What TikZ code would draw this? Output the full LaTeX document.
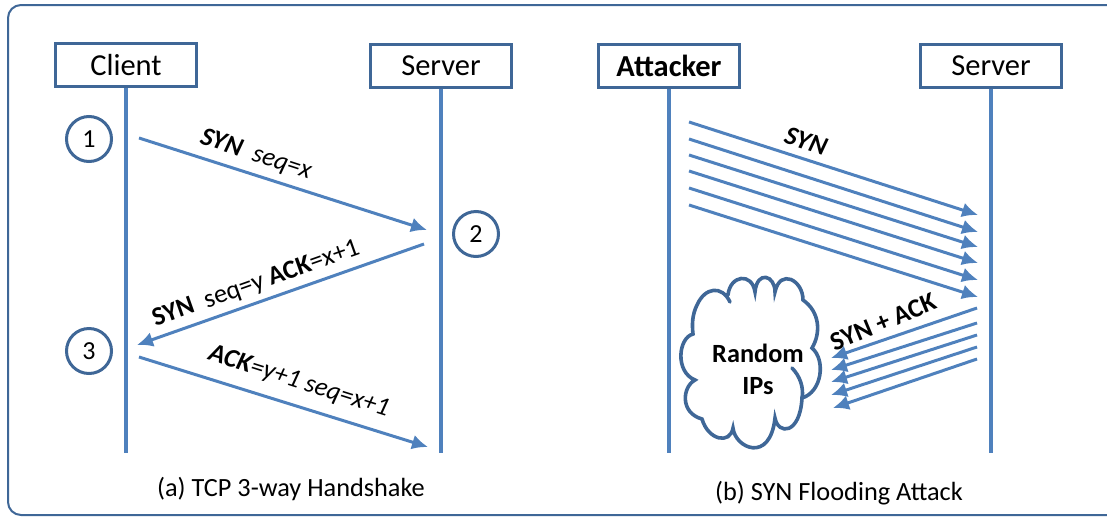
\documentclass[tikz,border=0pt]{standalone}
\usepackage{fontspec}
\setmainfont{Carlito}
\usepackage{tikz}
\usetikzlibrary{arrows.meta}
\definecolor{linkblue}{HTML}{4F81BD}
\definecolor{edgeblue}{HTML}{3F6797}
\tikzset{
  party/.style={draw=edgeblue,line width=3.4pt,minimum width=141pt,minimum height=43pt,inner sep=0pt,font=\fontsize{30.5}{32}\selectfont},
  step num/.style={draw=edgeblue,circle,line width=3pt,minimum size=45pt,inner sep=0pt,font=\fontsize{26}{28}\selectfont},
  life/.style={linkblue,line width=3.2pt},
  msg/.style={linkblue,line width=3pt,-{Latex[length=16pt,width=15pt]}},
  lbl/.style={inner sep=0pt,font=\fontsize{26.3}{28}\selectfont},
  caption/.style={inner sep=0pt,font=\fontsize{26.3}{28}\selectfont},
  cloudline/.style={edgeblue,line width=3.6pt,line cap=round},
}
\begin{document}
\begin{tikzpicture}[x=1pt,y=-1pt]
    \useasboundingbox (0,0) rectangle (1107,517);
    \draw[edgeblue,line width=2pt,rounded corners=13pt] (8,5) rectangle (1130,515);
    % parties
    \node[party] (client)   at (126,65) {Client};
    \node[party] (server_a) at (441,66) {Server};
    \node[party] (attacker) at (669,66) {\textbf{Attacker}};
    \node[party] (server_b) at (991,66) {Server};
    \coordinate (end_c) at (126,453);
    \coordinate (end_s) at (441,453);
    \coordinate (end_a) at (669,453);
    \coordinate (end_b) at (991,453);
    \draw[life] (client) -- (end_c);
    \draw[life] (server_a) -- (end_s);
    \draw[life] (attacker) -- (end_a);
    \draw[life] (server_b) -- (end_b);
    % steps
    \node[step num] (n1) at (89,139) {1};
    \node[step num] (n2) at (476,234) {2};
    \node[step num] (n3) at (89,351) {3};
    % handshake
    \coordinate (h1s) at (139,138);
    \coordinate (h1e) at (427,230);
    \coordinate (h2s) at (424,244);
    \coordinate (h2e) at (137,345);
    \coordinate (h3s) at (139,357);
    \coordinate (h3e) at (428,447);
    \draw[msg] (h1s) -- (h1e);
    \draw[msg] (h2s) -- (h2e);
    \draw[msg] (h3s) -- (h3e);
    \node[lbl,rotate=-18] (l1) at (256,155) {\textit{\textbf{SYN}\ \ seq=x}};
    \node[lbl,rotate=19.5] (l2) at (256,284) {\textbf{SYN}\ \ seq=y \textbf{ACK}=x+1};
    \node[lbl,rotate=-17.5] (l3) at (299,382) {\textit{\textbf{ACK}=y+1 seq=x+1}};
    % flood of SYN
    \foreach \i/\ys/\ye in {1/122/215,2/139/232,3/155/247,4/171/263,5/188/280,6/205/297} {
      \coordinate (f\i s) at (689,\ys);
      \coordinate (f\i e) at (978,\ye);
      \draw[msg] (f\i s) -- (f\i e);
    }
    \node[lbl,rotate=-18] (l4) at (806,141) {\textit{\textbf{SYN}}};
    % replies
    \foreach \i/\ys/\xe/\ye in {1/308/831/358,2/323/831/370,3/335/831/382,4/347/831/395,5/359/833/408} {
      \coordinate (r\i s) at (977,\ys);
      \coordinate (r\i e) at (\xe,\ye);
      \draw[msg] (r\i s) -- (r\i e);
    }
    \node[lbl,rotate=22.5] (l5) at (883,322) {\textbf{SYN + ACK}};
    % cloud
    \draw[cloudline]
      (730,302) .. controls (722,285) and (705,287) .. (697,305)
      .. controls (692,315) and (692,325) .. (693,334)
      .. controls (678,338) and (675,372) .. (695,380)
      .. controls (682,387) and (680,413) .. (702,419)
      .. controls (708,440) and (730,445) .. (733,428)
      .. controls (735,448) and (770,464) .. (775,418)
      .. controls (778,435) and (800,435) .. (802,398)
      .. controls (822,392) and (826,360) .. (812,348)
      .. controls (821,333) and (820,312) .. (803,300)
      .. controls (803,280) and (780,268) .. (775,292)
      .. controls (775,275) and (757,270) .. (755,292)
      .. controls (752,272) and (730,275) .. (728,295);
    \draw[cloudline] (792,368) .. controls (800,376) and (804,388) .. (802,398);
    \node[inner sep=0pt,align=center,font=\fontsize{26.3}{32}\selectfont\bfseries] (ips) at (758,369) {Random\\IPs};
    % captions
    \node[caption] (cap_a) at (291,489) {(a) TCP 3-way Handshake};
    \node[caption] (cap_b) at (839,493) {(b) SYN Flooding Attack};
\end{tikzpicture}
\end{document}
